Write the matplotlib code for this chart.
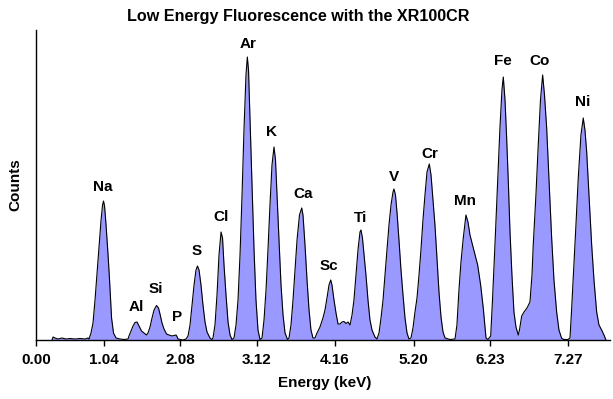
import numpy as np
import matplotlib
matplotlib.use("Agg")
import matplotlib.pyplot as plt

# spectrum, region by region (energy in keV, counts)
noise_kev = [0.342, 0.356, 0.382, 0.423, 0.476, 0.530, 0.584, 0.651, 0.718, 0.785, 0.825]
noise_cts = [0, 30, 20, 10, 20, 10, 15, 10, 15, 10, 20]

na_kev = [0.839, 0.865, 0.892, 0.919, 0.946, 0.973, 1.000, 1.020, 1.033, 1.047, 1.067, 1.094, 1.114, 1.141, 1.167, 1.201]
na_cts = [10, 70, 170, 400, 670, 950, 1200, 1350, 1390, 1340, 1150, 850, 600, 220, 70, 20]

al_kev = [1.255, 1.308, 1.362, 1.375, 1.402, 1.429, 1.456, 1.483, 1.510, 1.543, 1.577, 1.610]
al_cts = [10, 5, 10, 40, 90, 140, 175, 180, 140, 90, 70, 50]

si_kev = [1.630, 1.657, 1.684, 1.711, 1.744, 1.771, 1.791, 1.818, 1.845, 1.879]
si_cts = [70, 130, 220, 300, 345, 320, 260, 170, 110, 60]

p_kev = [1.912, 1.952, 1.979, 2.006, 2.019, 2.033, 2.100, 2.140]
p_cts = [50, 40, 45, 50, 35, 10, 0, 10]

s_kev = [2.167, 2.194, 2.221, 2.248, 2.274, 2.294, 2.315, 2.341, 2.368, 2.395, 2.422, 2.462, 2.489]
s_cts = [40, 150, 350, 550, 700, 740, 700, 550, 350, 180, 80, 20, 5]

cl_kev = [2.502, 2.529, 2.556, 2.583, 2.610, 2.630, 2.650, 2.677, 2.704, 2.731, 2.757]
cl_cts = [20, 150, 450, 850, 1080, 1020, 750, 450, 180, 50, 5]

ar_kev = [2.784, 2.811, 2.838, 2.865, 2.892, 2.918, 2.945, 2.963, 2.979, 2.999, 3.026, 3.053, 3.079, 3.106, 3.133]
ar_cts = [20, 150, 400, 850, 1450, 2100, 2650, 2830, 2700, 2200, 1550, 900, 400, 100, 5]

k_kev = [3.160, 3.187, 3.214, 3.240, 3.267, 3.294, 3.321, 3.341, 3.361, 3.388, 3.415, 3.442, 3.469, 3.502]
k_cts = [20, 200, 500, 900, 1350, 1750, 1930, 1800, 1450, 1000, 550, 250, 70, 5]

ca_kev = [3.522, 3.549, 3.576, 3.603, 3.630, 3.663, 3.693, 3.710, 3.737, 3.764, 3.791, 3.817, 3.844]
ca_cts = [20, 150, 400, 700, 1000, 1250, 1320, 1250, 950, 600, 300, 100, 20]

sc_kev = [3.871, 3.898, 3.938, 3.978, 4.005, 4.032, 4.059, 4.082, 4.099, 4.126, 4.153, 4.180, 4.207, 4.233, 4.260, 4.287, 4.314, 4.341]
sc_cts = [20, 70, 130, 220, 300, 420, 550, 600, 550, 400, 270, 160, 160, 180, 185, 165, 180, 150]

ti_kev = [4.368, 4.394, 4.421, 4.448, 4.475, 4.488, 4.508, 4.529, 4.555, 4.582, 4.609, 4.636, 4.676]
ti_cts = [250, 400, 650, 900, 1080, 1100, 1020, 850, 650, 400, 200, 100, 30]

v_kev = [4.703, 4.730, 4.757, 4.784, 4.810, 4.837, 4.864, 4.891, 4.918, 4.931, 4.951, 4.971, 4.998, 5.025, 5.052, 5.079, 5.106, 5.132]
v_cts = [10, 70, 220, 400, 650, 900, 1150, 1350, 1480, 1510, 1450, 1280, 1000, 700, 450, 220, 70, 10]

cr_kev = [5.159, 5.186, 5.213, 5.240, 5.267, 5.293, 5.320, 5.347, 5.374, 5.405, 5.428, 5.454, 5.481, 5.508, 5.535, 5.562, 5.589, 5.616]
cr_cts = [20, 120, 280, 420, 650, 900, 1200, 1450, 1680, 1760, 1650, 1400, 1150, 820, 480, 230, 80, 20]

mn_kev = [5.683, 5.750, 5.776, 5.803, 5.830, 5.861, 5.897, 5.924, 5.951, 5.995, 6.054, 6.094, 6.129, 6.166, 6.192]
mn_cts = [5, 10, 150, 500, 780, 1020, 1250, 1180, 1050, 920, 750, 550, 320, 20, 5]

fe_kev = [6.229, 6.253, 6.286, 6.320, 6.353, 6.380, 6.398, 6.421, 6.443, 6.467, 6.488, 6.514, 6.541, 6.568, 6.599]
fe_cts = [40, 400, 950, 1550, 2120, 2500, 2630, 2400, 2020, 1550, 1080, 650, 280, 130, 50]

co_kev = [6.615, 6.645, 6.676, 6.716, 6.756, 6.783, 6.800, 6.836, 6.867, 6.897, 6.926, 6.951, 6.980, 7.011, 7.047, 7.078, 7.114, 7.145, 7.181, 7.212]
co_cts = [100, 240, 280, 320, 380, 650, 950, 1450, 1950, 2400, 2650, 2450, 2120, 1600, 1020, 600, 280, 100, 17, 5]

ni_kev = [7.266, 7.293, 7.313, 7.337, 7.373, 7.404, 7.440, 7.471, 7.494, 7.517, 7.548, 7.584, 7.615, 7.651, 7.682, 7.718, 7.749, 7.776]
ni_cts = [5, 20, 280, 620, 1150, 1620, 2050, 2220, 2100, 1880, 1450, 950, 600, 280, 150, 100, 50, 0]

# element labels and where they sit
elements = ["Na", "Al", "Si", "P", "S", "Cl", "Ar", "K", "Ca", "Sc", "Ti", "V", "Cr", "Mn", "Fe", "Co", "Ni"]
label_kev = [1.026, 1.469, 1.738, 2.019, 2.288, 2.610, 2.972, 3.294, 3.710, 4.059, 4.488, 4.931, 5.414, 5.883, 6.394, 6.890, 7.467]
label_cts = [1530, 330, 510, 230, 890, 1230, 2960, 2080, 1460, 740, 1220, 1630, 1860, 1390, 2790, 2790, 2380]

tick_kev = [0.127, 1.040, 2.060, 3.089, 4.139, 5.195, 6.219, 7.270]
tick_labels = ["0.00", "1.04", "2.08", "3.12", "4.16", "5.20", "6.23", "7.27"]

energy = np.concatenate([noise_kev, na_kev, al_kev, si_kev, p_kev, s_kev, cl_kev, ar_kev, k_kev, ca_kev,
                         sc_kev, ti_kev, v_kev, cr_kev, mn_kev, fe_kev, co_kev, ni_kev])
counts = np.concatenate([noise_cts, na_cts, al_cts, si_cts, p_cts, s_cts, cl_cts, ar_cts, k_cts, ca_cts,
                         sc_cts, ti_cts, v_cts, cr_cts, mn_cts, fe_cts, co_cts, ni_cts])

plt.rcParams['font.family'] = ['Liberation Sans', 'DejaVu Sans']
plt.rcParams['font.weight'] = 'bold'
fs = 11

fig = plt.figure(figsize=(6.13, 3.99), dpi=100)
ax = fig.add_axes([36/613, 59/399, 574/613, 310/399])

ax.fill_between(energy, counts, 0, color='#9999ff', linewidth=0)
ax.plot(energy, counts, color='black', linewidth=0.8)

for name, e, c in zip(elements, label_kev, label_cts):
    ax.text(e, c, name, ha='center', va='center', fontsize=fs, fontweight='bold')

ax.set_xlim(0.127, 7.83)
ax.set_ylim(0, 3100)
ax.set_xticks(tick_kev)
ax.set_xticklabels(tick_labels, fontsize=fs, fontweight='bold')
ax.set_yticks([])
ax.tick_params(axis='x', direction='out', length=4, width=1, pad=5)

ax.spines['top'].set_visible(False)
ax.spines['right'].set_visible(False)
ax.spines['left'].set_linewidth(1)
ax.spines['bottom'].set_linewidth(1)

ax.set_xlabel("Energy (keV)", fontsize=fs, fontweight='bold')
ax.xaxis.set_label_coords(0.503, -0.115)
ax.set_ylabel("Counts", fontsize=fs, fontweight='bold')
ax.yaxis.set_label_coords(-0.023, 0.5)

fig.text(298.5/613, 1 - 17/399, "Low Energy Fluorescence with the XR100CR", ha='center', va='center',
         fontsize=11.6, fontweight='bold')

fig.savefig("out.png", dpi=100)
